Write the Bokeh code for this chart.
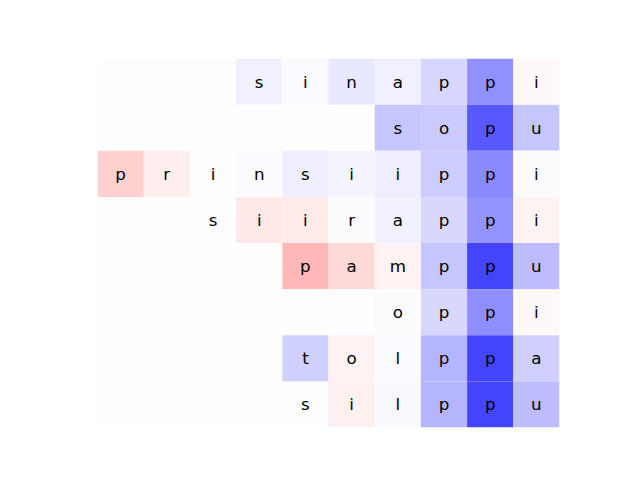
from bokeh.plotting import figure
from bokeh.models import ColumnDataSource, LinearColorMapper, Range1d
from bokeh.core.properties import value
from bokeh.embed import file_html
from bokeh.resources import INLINE

# letters per row ("" = empty cell)
row0 = ["", "", "", "s", "i", "n", "a", "p", "p", "i"]
row1 = ["", "", "", "", "", "", "s", "o", "p", "u"]
row2 = ["p", "r", "i", "n", "s", "i", "i", "p", "p", "i"]
row3 = ["", "", "s", "i", "i", "r", "a", "p", "p", "i"]
row4 = ["", "", "", "", "p", "a", "m", "p", "p", "u"]
row5 = ["", "", "", "", "", "", "o", "p", "p", "i"]
row6 = ["", "", "", "", "t", "o", "l", "p", "p", "a"]
row7 = ["", "", "", "", "s", "i", "l", "p", "p", "u"]

# attribution values per cell (negative = blue, positive = red)
val0 = [0, 0, 0, -0.06, -0.02, -0.09, -0.06, -0.16, -0.43, 0.03]
val1 = [0, 0, 0, 0, 0, 0, -0.22, -0.21, -0.65, -0.22]
val2 = [0.18, 0.07, 0, -0.02, -0.07, -0.04, -0.07, -0.20, -0.46, -0.01]
val3 = [0, 0, 0, 0.09, 0.08, -0.01, -0.05, -0.15, -0.42, 0.04]
val4 = [0, 0, 0, 0, 0.28, 0.15, 0.05, -0.22, -0.73, -0.26]
val5 = [0, 0, 0, 0, 0, 0, -0.01, -0.15, -0.44, 0.03]
val6 = [0, 0, 0, 0, -0.18, 0.05, -0.02, -0.29, -0.73, -0.18]
val7 = [0, 0, 0, 0, 0, 0.06, -0.03, -0.29, -0.73, -0.26]

letters = [row0, row1, row2, row3, row4, row5, row6, row7]
values = [val0, val1, val2, val3, val4, val5, val6, val7]


def bwr_palette(n=256):
    pal = []
    for i in range(n):
        f = i / (n - 1)
        if f <= 0.5:
            t = f / 0.5
            r, g, b = t, t, 1.0
        else:
            t = (f - 0.5) / 0.5
            r, g, b = 1.0, 1.0 - t, 1.0 - t
        pal.append("#%02x%02x%02x" % (round(r * 255), round(g * 255), round(b * 255)))
    return pal


xs, ys, vs, ts = [], [], [], []
for r, (lr, vr) in enumerate(zip(letters, values)):
    for c, (l, v) in enumerate(zip(lr, vr)):
        xs.append(c + 0.5)
        ys.append(r + 0.5)
        vs.append(v)
        ts.append(l)

src = ColumnDataSource(dict(x=xs, y=ys, v=vs, t=ts))
mapper = LinearColorMapper(palette=bwr_palette(), low=-1, high=1)

p = figure(width=640, height=480, output_backend="svg", toolbar_location=None,
           x_range=Range1d(0, 10), y_range=Range1d(8, 0),
           min_border_left=97, min_border_right=81, min_border_top=58, min_border_bottom=53)
p.axis.visible = False
p.grid.visible = False
p.outline_line_color = None
p.background_fill_color = "white"
p.border_fill_color = "white"

p.rect(x="x", y="y", width=1, height=1, source=src,
       fill_color={"field": "v", "transform": mapper}, line_color=None)
p.text(x="x", y="y", text="t", source=src, text_align="center", text_baseline="middle",
       text_font=value("DejaVu Sans"), text_font_size="16.7px", text_color="black")

open("out.html", "w").write(file_html(p, INLINE))
